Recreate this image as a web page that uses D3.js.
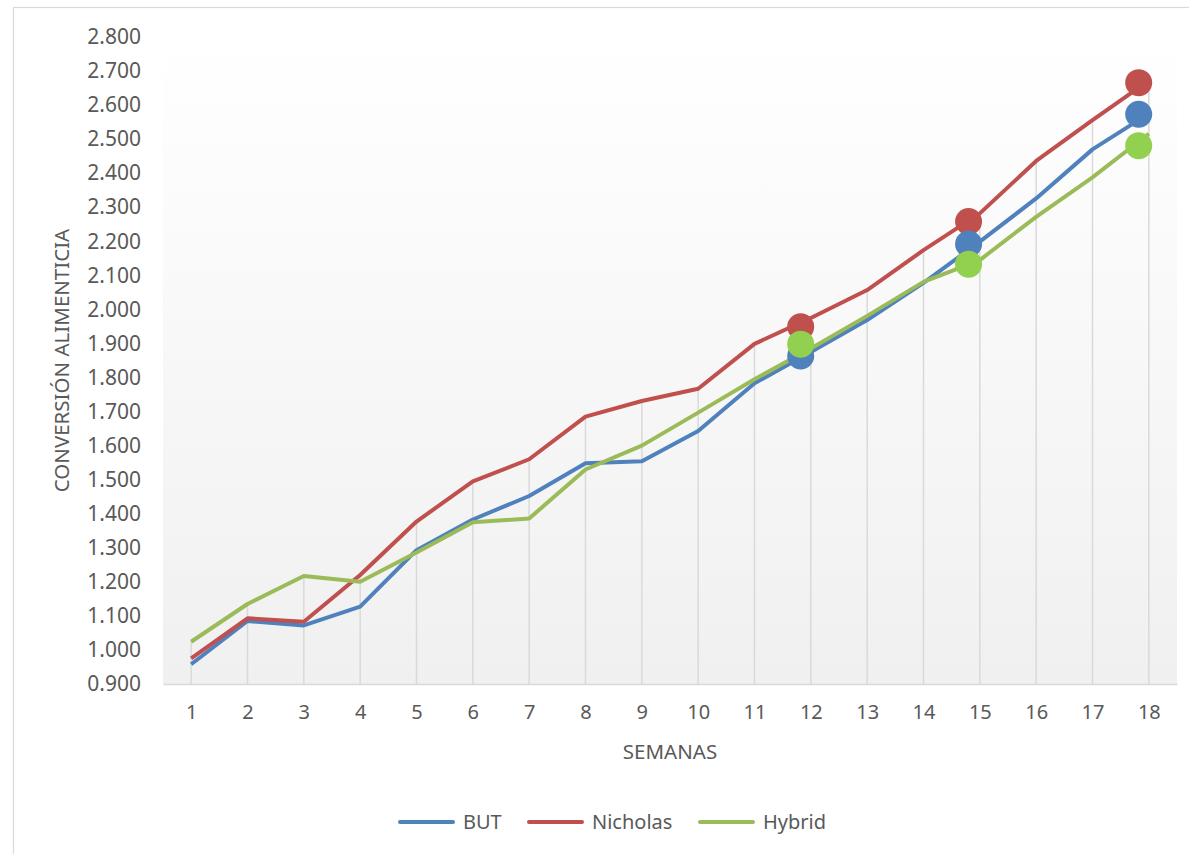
<!DOCTYPE html>
<meta charset="utf-8">
<script src="https://d3js.org/d3.v7.min.js"></script>
<style>
  body { margin: 0; background: #fff; }
  text { font-family: "Noto Sans", "Open Sans", sans-serif; fill: #595959; }
</style>
<div id="chart"></div>
<script>

// weeks on the x axis
var weeks = [1, 2, 3, 4, 5, 6, 7, 8, 9, 10, 11, 12, 13, 14, 15, 16, 17, 18];

// feed conversion per series
var but      = [0.958, 1.085, 1.072, 1.127, 1.293, 1.383, 1.452, 1.548, 1.554, 1.643, 1.783, 1.875, 1.969, 2.078, 2.199, 2.326, 2.470, 2.575];
var nicholas = [0.975, 1.093, 1.083, 1.220, 1.377, 1.495, 1.560, 1.685, 1.731, 1.767, 1.899, 1.975, 2.057, 2.174, 2.282, 2.436, 2.556, 2.672];
var hybrid   = [1.024, 1.135, 1.217, 1.200, 1.286, 1.375, 1.386, 1.530, 1.600, 1.697, 1.795, 1.885, 1.981, 2.081, 2.145, 2.272, 2.388, 2.516];

var seriesNames = ["BUT", "Nicholas", "Hybrid"];

// the big dots placed by hand on the original (week position, value)
var markerWeeks  = [11.82, 14.80, 17.82];
var markerBut    = [1.863, 2.192, 2.573];
var markerNich   = [1.949, 2.258, 2.666];
var markerHybrid = [1.898, 2.133, 2.481];

var yTicks = [0.9, 1.0, 1.1, 1.2, 1.3, 1.4, 1.5, 1.6, 1.7, 1.8, 1.9, 2.0, 2.1, 2.2, 2.3, 2.4, 2.5, 2.6, 2.7, 2.8];

var width = 1189, height = 854;
var margin = {top: 37, right: 12, bottom: 170, left: 163};
var plotW = width - margin.left - margin.right,
    plotH = height - margin.top - margin.bottom;

var colors = {"BUT": "#4f81bd", "Nicholas": "#c0504d", "Hybrid": "#9bbb59"};
var dotColors = {"BUT": "#4f81bd", "Nicholas": "#c0504d", "Hybrid": "#92d050"};

var svg = d3.select("#chart").append("svg")
    .attr("width", width)
    .attr("height", height);

// outer chart frame
svg.append("rect")
    .attr("x", 13.5).attr("y", 7.5)
    .attr("width", width).attr("height", height)
    .attr("fill", "none")
    .attr("stroke", "#d9d9d9")
    .attr("stroke-width", 1.2);

var defs = svg.append("defs");
var grad = defs.append("linearGradient")
    .attr("id", "plotbg")
    .attr("x1", 0).attr("y1", 0).attr("x2", 0).attr("y2", 1);
grad.append("stop").attr("offset", "0%").attr("stop-color", "#ffffff");
grad.append("stop").attr("offset", "100%").attr("stop-color", "#f0f0f0");

var g = svg.append("g")
    .attr("transform", "translate(" + margin.left + "," + margin.top + ")");

var x = d3.scaleLinear().domain([0.5, 18.5]).range([0, plotW]);
var y = d3.scaleLinear().domain([0.9, 2.8]).range([plotH, 0]);

g.append("rect")
    .attr("width", plotW)
    .attr("height", plotH)
    .attr("fill", "url(#plotbg)");

var data = seriesNames.map(function(name, i) {
  var vals = [but, nicholas, hybrid][i];
  return {name: name, values: weeks.map(function(w, j) { return {week: w, value: vals[j]}; })};
});

// drop lines from the highest series down to the axis
g.append("g").selectAll("line")
  .data(weeks)
  .enter().append("line")
    .attr("x1", function(d) { return x(d); })
    .attr("x2", function(d) { return x(d); })
    .attr("y1", function(d, i) { return y(Math.max(but[i], nicholas[i], hybrid[i])); })
    .attr("y2", plotH)
    .attr("stroke", "#d9d9d9")
    .attr("stroke-width", 1.5);

// x axis
var xAxis = g.append("g")
    .attr("transform", "translate(0," + plotH + ")")
    .call(d3.axisBottom(x).tickValues(weeks).tickSize(0).tickPadding(21).tickFormat(d3.format("d")));
xAxis.select(".domain").attr("stroke", "#d9d9d9").attr("stroke-width", 1.5);
xAxis.selectAll("text").style("font-size", "20px").attr("fill", "#595959");

// y axis
var yAxis = g.append("g")
    .call(d3.axisLeft(y).tickValues(yTicks).tickSize(0).tickPadding(22).tickFormat(d3.format(".3f")));
yAxis.select(".domain").remove();
yAxis.selectAll("text").style("font-size", "21px").attr("fill", "#595959");

var line = d3.line()
    .x(function(d) { return x(d.week); })
    .y(function(d) { return y(d.value); });

g.append("g").selectAll("path")
  .data(data)
  .enter().append("path")
    .attr("d", function(d) { return line(d.values); })
    .attr("fill", "none")
    .attr("stroke", function(d) { return colors[d.name]; })
    .attr("stroke-width", 4)
    .attr("stroke-linejoin", "round");

// dots: red first, then blue, then green on top
var dotSets = [
  {name: "Nicholas", vals: markerNich},
  {name: "BUT", vals: markerBut},
  {name: "Hybrid", vals: markerHybrid}
];
dotSets.forEach(function(s) {
  g.append("g").selectAll("circle")
    .data(markerWeeks)
    .enter().append("circle")
      .attr("cx", function(d) { return x(d); })
      .attr("cy", function(d, i) { return y(s.vals[i]); })
      .attr("r", 13.5)
      .attr("fill", dotColors[s.name]);
});

// axis titles
svg.append("text")
    .attr("transform", "translate(69," + (margin.top + plotH / 2) + ") rotate(-90)")
    .attr("text-anchor", "middle")
    .style("font-size", "20.5px")
    .text("CONVERSIÓN ALIMENTICIA");

svg.append("text")
    .attr("x", margin.left + plotW / 2)
    .attr("y", 759)
    .attr("text-anchor", "middle")
    .style("font-size", "20.5px")
    .text("SEMANAS");

// legend
var legendX = [400, 529, 700];
var legend = svg.selectAll(".legend")
    .data(seriesNames)
  .enter().append("g")
    .attr("class", "legend")
    .attr("transform", function(d, i) { return "translate(" + legendX[i] + ",822)"; });

legend.append("line")
    .attr("x1", 0).attr("x2", 53)
    .attr("stroke", function(d) { return colors[d]; })
    .attr("stroke-width", 4)
    .attr("stroke-linecap", "round");

legend.append("text")
    .attr("x", 63)
    .attr("dy", "0.35em")
    .style("font-size", "20px")
    .text(function(d) { return d; });

</script>
